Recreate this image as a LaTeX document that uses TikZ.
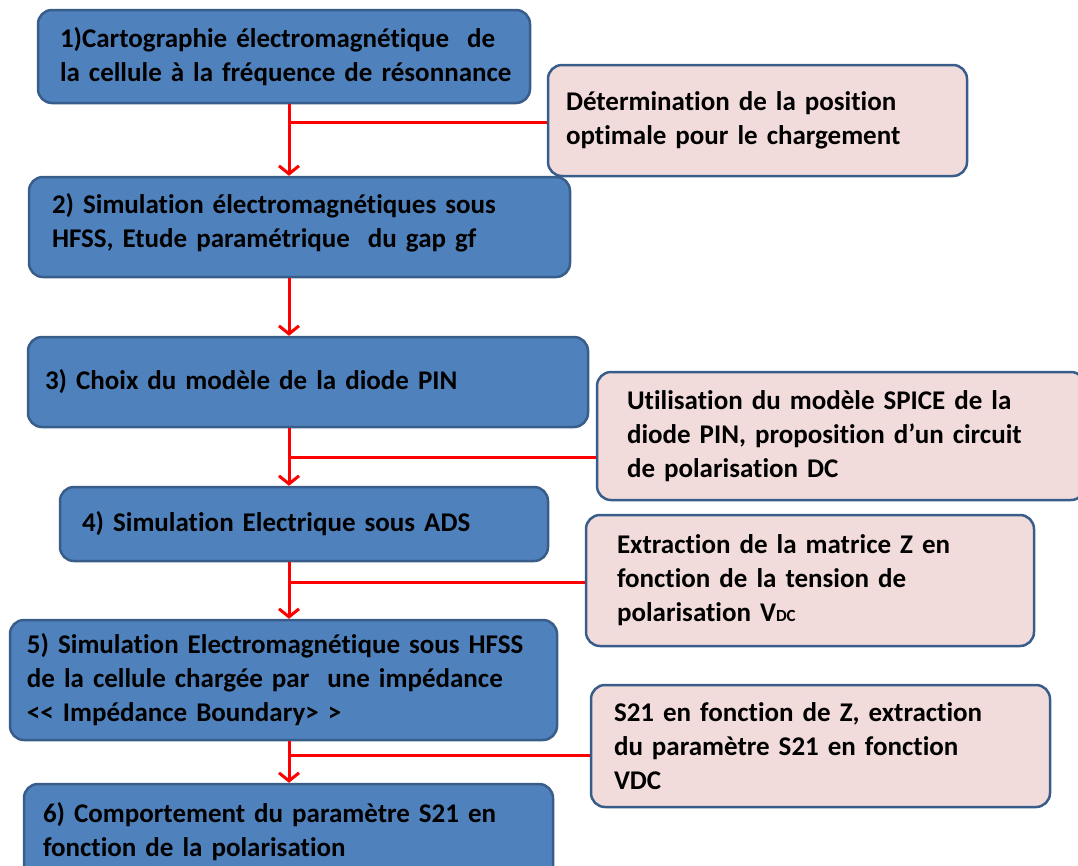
\documentclass[tikz,border=0pt]{standalone}
\usepackage{fontspec}
\setmainfont{Carlito}[WordSpace=0.55, Ligatures={NoCommon}]
\usetikzlibrary{arrows.meta}
\definecolor{stageblue}{RGB}{79,129,189}
\definecolor{edgeblue}{RGB}{56,93,138}
\definecolor{notepink}{RGB}{242,220,219}
\definecolor{flowred}{RGB}{255,0,0}

\begin{document}
\begin{tikzpicture}[
    x=1pt, y=-1pt,
    >={Straight Barb[length=8pt, width=20pt]},
    every node/.style={font=\fontsize{27}{34}\selectfont\bfseries, align=left, text=black},
    stagebox/.style={draw=edgeblue, line width=2.5pt, fill=stageblue, rounded corners=14pt},
    notebox/.style={draw=edgeblue, line width=2.5pt, fill=notepink, rounded corners=14pt},
    flow/.style={flowred, line width=3pt},
]
    \useasboundingbox (0,0) rectangle (1078,865);
    \coordinate (spine) at (289,0);

    % Main stages
    \node[stagebox, text width=458pt, inner xsep=17pt, minimum height=93pt] (s1) at (284,56.5)
        {\hspace*{5pt}1)Cartographie électromagnétique\ \ de\\\hspace*{5pt}la cellule à la fréquence de résonnance};
    \node[stagebox, text width=495pt, inner xsep=23pt, minimum height=100pt] (s2) at (299.5,227)
        {2) Simulation électromagnétiques sous\\HFSS, Etude paramétrique\ \ du gap gf\\[-20pt]\mbox{}};
    \node[stagebox, text width=526pt, inner xsep=17pt, minimum height=90pt] (s3) at (308,382)
        {3) Choix du modèle de la diode PIN};
    \node[stagebox, text width=444pt, inner xsep=22pt, minimum height=74pt] (s4) at (304,524)
        {4) Simulation Electrique sous ADS};
    \node[stagebox, text width=513pt, inner xsep=17pt, minimum height=120pt] (s5) at (283.5,680)
        {5) Simulation Electromagnétique sous HFSS\\de la cellule chargée par\ \ une impédance\\{<}{<} Impédance Boundary{>} {>}};
    \node[stagebox, text width=491pt, inner xsep=19pt, minimum height=96pt] (s6) at (288.5,832)
        {6) Comportement du paramètre S21 en\\fonction de la polarisation};

    % Side notes
    \node[notebox, text width=383pt, inner xsep=18pt, minimum height=111pt] (n1) at (757.5,120.5)
        {Détermination de la position\\optimale pour le chargement};
    \node[notebox, text width=428pt, inner xsep=30pt, minimum height=128pt] (n2) at (841,436)
        {Utilisation du modèle SPICE de la\\diode PIN, proposition d’un circuit\\de polarisation DC};
    \node[notebox, text width=386pt, inner xsep=31pt, minimum height=131pt] (n3) at (810,580.5)
        {Extraction de la matrice Z en\\fonction de la tension de\\polarisation V{\fontsize{17}{17}\selectfont DC}};
    \node[notebox, text width=413pt, inner xsep=23pt, minimum height=122pt] (n4) at (820.5,746)
        {S21 en fonction de Z, extraction\\du paramètre S21 en fonction\\VDC};

    % Flow arrows
    \draw[flow, ->] (s1.south -| spine) -- (s2.north -| spine);
    \draw[flow, ->] (s2.south -| spine) -- (s3.north -| spine);
    \draw[flow, ->] (s3.south -| spine) -- (s4.north -| spine);
    \draw[flow, ->] (s4.south -| spine) -- (s5.north -| spine);
    \draw[flow, ->] (s5.south -| spine) -- (s6.north -| spine);

    % Branches from the notes
    \coordinate (j1) at ([yshift=-1.5pt]n1.west);
    \coordinate (j2) at ([yshift=-21pt]n2.west);
    \coordinate (j3) at ([yshift=-1.5pt]n3.west);
    \coordinate (j4) at ([yshift=-9pt]n4.west);
    \draw[flow] (j1) -- (j1 -| spine);
    \draw[flow] (j2) -- (j2 -| spine);
    \draw[flow] (j3) -- (j3 -| spine);
    \draw[flow] (j4) -- (j4 -| spine);
\end{tikzpicture}
\end{document}
